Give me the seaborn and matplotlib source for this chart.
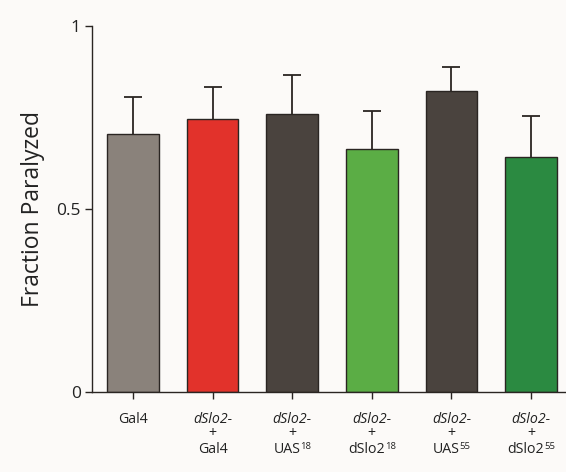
import matplotlib
matplotlib.use("Agg")
import matplotlib.pyplot as plt
import matplotlib.transforms as mtransforms
import seaborn as sns
import pandas as pd

# Fraction of flies paralyzed per genotype (mean with upper SEM)
groups = ["Gal4", "dSlo2-/Gal4", "dSlo2-/UAS18", "dSlo2-/dSlo2 18", "dSlo2-/UAS55", "dSlo2-/dSlo2 55"]
fraction = [0.705, 0.745, 0.760, 0.663, 0.823, 0.642]
sem = [0.101, 0.087, 0.106, 0.105, 0.064, 0.113]
colors = ["#8a827b", "#e2322b", "#4a433e", "#5bad45", "#4a433e", "#2b8a41"]

# Tick label lines: italic genotype, "+", transgene with superscript insertion line
line1 = ["", "dSlo2-", "dSlo2-", "dSlo2-", "dSlo2-", "dSlo2-"]
line2 = ["Gal4", "+", "+", "+", "+", "+"]
line3 = ["", "Gal4", "UAS", "dSlo2", "UAS", "dSlo2"]
line3_sup = ["", "", "18", "18", "55", "55"]

sns.set_style("ticks")
plt.rcParams["font.family"] = ["Open Sans", "DejaVu Sans"]

bg = "#fcfaf8"
ink = "#2a2522"
txt = "#222222"
fig = plt.figure(figsize=(5.66, 4.72), dpi=100, facecolor=bg)
ax = fig.add_axes([0.1625, 0.1695, 0.8375, 0.7755])
ax.set_facecolor(bg)

df = pd.DataFrame({"group": groups, "fraction": fraction})
sns.barplot(data=df, x="group", y="fraction", hue="group", palette=colors,
            saturation=1, errorbar=None, width=0.65, edgecolor=ink, linewidth=1.0,
            legend=False, ax=ax, zorder=2)

# Error bars sit behind the bars so only the upper half shows
ax.errorbar(range(len(groups)), fraction, yerr=sem, fmt="none",
            ecolor=ink, elinewidth=1.3, capsize=6.5, capthick=1.3, zorder=1)

ax.set_xlim(-0.515, 5.44)
ax.set_ylim(0, 1)
ax.set_yticks([0, 0.5, 1])
ax.set_yticklabels(["0", "0.5", "1"], fontsize=12.5, color=txt)
ax.set_xticks(range(len(groups)))
ax.set_xticklabels([""] * len(groups))
ax.tick_params(axis="both", length=5, width=1.0, color=ink)
ax.tick_params(axis="y", pad=3)

ax.set_xlabel("")
ax.set_ylabel("Fraction Paralyzed", fontsize=16.5, color=txt, labelpad=8)

for side in ["top", "right"]:
    ax.spines[side].set_visible(False)
for side in ["left", "bottom"]:
    ax.spines[side].set_linewidth(1.0)
    ax.spines[side].set_color(ink)

trans = mtransforms.blended_transform_factory(ax.transData, ax.transAxes)
ys = [-0.085, -0.124, -0.166]
fs = 10.2
sup_fs = 6.8
for i in range(len(groups)):
    if not line1[i]:
        ax.text(i, ys[0], line2[i], transform=trans, ha="center", va="baseline",
                fontsize=fs, color=txt)
        continue
    ax.text(i, ys[0], line1[i], transform=trans, ha="center", va="baseline",
            fontsize=fs, style="italic", color=txt)
    ax.text(i, ys[1], line2[i], transform=trans, ha="center", va="baseline",
            fontsize=fs, color=txt)
    shift = -len(line3_sup[i]) * sup_fs * 0.28
    base = ax.annotate(line3[i], xy=(i, ys[2]), xycoords=trans,
                       xytext=(shift, 0), textcoords="offset points",
                       ha="center", va="baseline", fontsize=fs, color=txt)
    if line3_sup[i]:
        ax.annotate(line3_sup[i], xy=(1, 0), xycoords=base,
                    xytext=(0, 4.3), textcoords="offset points",
                    ha="left", va="bottom", fontsize=sup_fs, color=txt)

fig.savefig("out.png", dpi=100, facecolor=bg)
